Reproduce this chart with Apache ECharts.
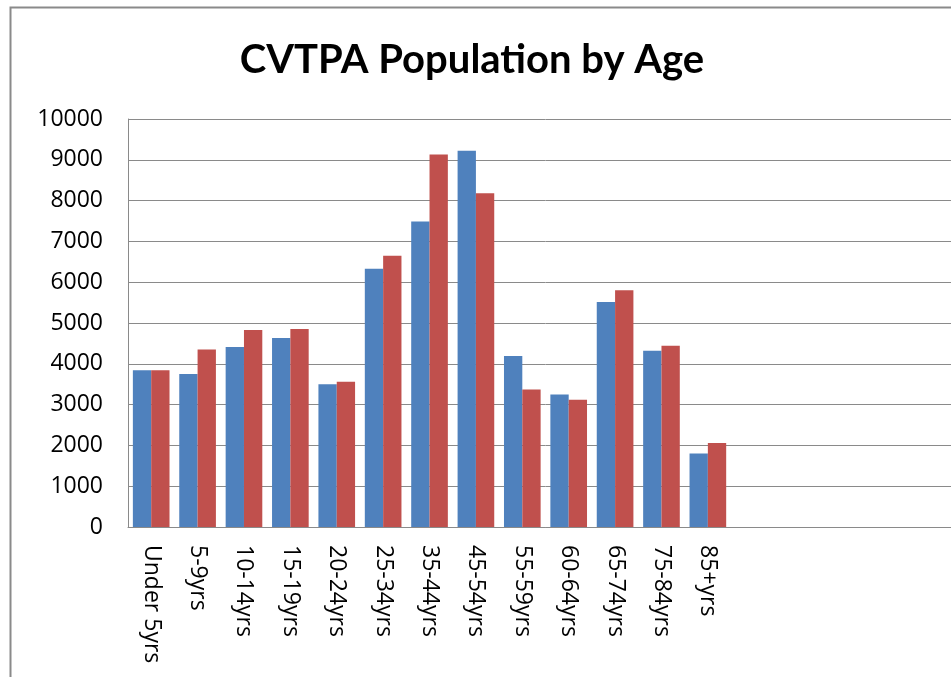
<!DOCTYPE html>
<html>
<head>
<meta charset="utf-8">
<title>CVTPA Population by Age</title>
<script src="https://cdn.jsdelivr.net/npm/echarts@6/dist/echarts.min.js"></script>
<style>
    html, body { margin: 0; padding: 0; background: #fff; overflow: hidden; }
    /* 原图右侧被裁掉了，画布做宽一点再让窗口裁切 */
    #chart { width: 980px; height: 677px; }
</style>
</head>
<body>
<div id="chart"></div>
<script>
// 年龄段（后面几个空类别是原图里的空白区）
const ageGroups = ['Under 5yrs', '5-9yrs', '10-14yrs', '15-19yrs', '20-24yrs', '25-34yrs',
    '35-44yrs', '45-54yrs', '55-59yrs', '60-64yrs', '65-74yrs', '75-84yrs', '85+yrs',
    '', '', '', '', ''];

// 两组人口数
const seriesA = [3840, 3750, 4410, 4630, 3500, 6330, 7490, 9220, 4190, 3250, 5515, 4320, 1800];
const seriesB = [3840, 4350, 4830, 4850, 3560, 6650, 9130, 8180, 3370, 3120, 5800, 4440, 2060];

const yTicks = [0, 10000, 1000]; // min, max, interval

document.addEventListener('DOMContentLoaded', function() {
    const chart = echarts.init(document.getElementById('chart'));

    const labelFont = {
        fontFamily: 'Open Sans',
        fontSize: 23,
        color: '#000'
    };

    const option = {
        backgroundColor: '#fff',
        animation: false,
        title: {
            text: 'CVTPA Population by Age',
            left: 467,
            textAlign: 'center',
            top: 35,
            textStyle: {
                fontFamily: 'Lato',
                fontWeight: 'bold',
                fontSize: 40,
                color: '#000'
            }
        },
        graphic: [
            {
                type: 'rect',
                shape: { x: 10.5, y: 7.5, width: 960, height: 700 },
                style: { fill: 'none', stroke: '#8a8a8a', lineWidth: 2 },
                silent: true
            }
        ],
        grid: {
            left: 128,
            top: 119,
            width: 835,
            height: 408
        },
        xAxis: {
            type: 'category',
            data: ageGroups,
            axisLine: { lineStyle: { color: '#8a8a8a', width: 1 } },
            axisTick: { show: false },
            axisLabel: Object.assign({
                interval: 0,
                rotate: -90,
                margin: 18
            }, labelFont)
        },
        yAxis: {
            type: 'value',
            min: yTicks[0],
            max: yTicks[1],
            interval: yTicks[2],
            axisLine: { show: true, lineStyle: { color: '#8a8a8a', width: 1 } },
            axisTick: { show: false },
            splitLine: { lineStyle: { color: '#8a8a8a', width: 1 } },
            axisLabel: Object.assign({
                margin: 25,
                formatter: function(v) { return String(v); }
            }, labelFont)
        },
        series: [
            {
                name: 'A',
                type: 'bar',
                data: seriesA,
                barGap: '0%',
                barCategoryGap: '21%',
                itemStyle: { color: '#4F81BD' }
            },
            {
                name: 'B',
                type: 'bar',
                data: seriesB,
                itemStyle: { color: '#C0504D' }
            }
        ]
    };

    chart.setOption(option);

    window.addEventListener('resize', function() {
        chart.resize();
    });
});
</script>
</body>
</html>
